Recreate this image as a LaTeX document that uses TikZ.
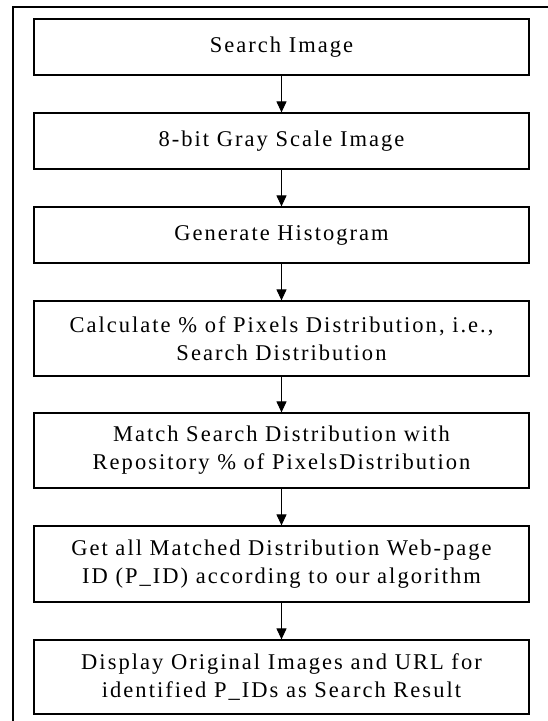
\documentclass[tikz,border=0pt]{standalone}
\usepackage{fontspec}
\setmainfont{Liberation Serif}[LetterSpace=9]
\usetikzlibrary{arrows.meta}
\begin{document}
\begin{tikzpicture}[x=1pt,y=-1pt,
  box/.style={draw, line width=1.2pt, fill=white, minimum width=495pt, align=center,
    font=\fontsize{22.5}{28}\selectfont, inner sep=0pt},
  link/.style={-{Triangle[width=10pt,length=11pt]}, line width=1pt}]
\useasboundingbox (0,0) rectangle (547,721);
\draw[line width=2pt] (13,730) -- (13,7) -- (560,7);
\node[box, minimum height=56pt] (b1) at (281.5,47) {Search Image};
\node[box, minimum height=56pt] (b2) at (281.5,141) {8-bit Gray Scale Image};
\node[box, minimum height=56pt] (b3) at (281.5,235) {Generate Histogram};
\node[box, minimum height=75pt] (b4) at (281.5,338.5) {Calculate \% of Pixels Distribution, i.e.,\\ Search Distribution};
\node[box, minimum height=75pt] (b5) at (281.5,450.5) {Match Search Distribution with\\ Repository \% of PixelsDistribution};
\node[box, minimum height=76pt] (b6) at (281.5,564) {Get all Matched Distribution Web-page\\ ID (P\_ID) according to our algorithm};
\node[box, minimum height=74pt] (b7) at (281.5,677) {Display Original Images and URL for\\ identified P\_IDs as Search Result};
\draw[link] (b1) -- (b2);
\draw[link] (b2) -- (b3);
\draw[link] (b3) -- (b4);
\draw[link] (b4) -- (b5);
\draw[link] (b5) -- (b6);
\draw[link] (b6) -- (b7);
\end{tikzpicture}
\end{document}
